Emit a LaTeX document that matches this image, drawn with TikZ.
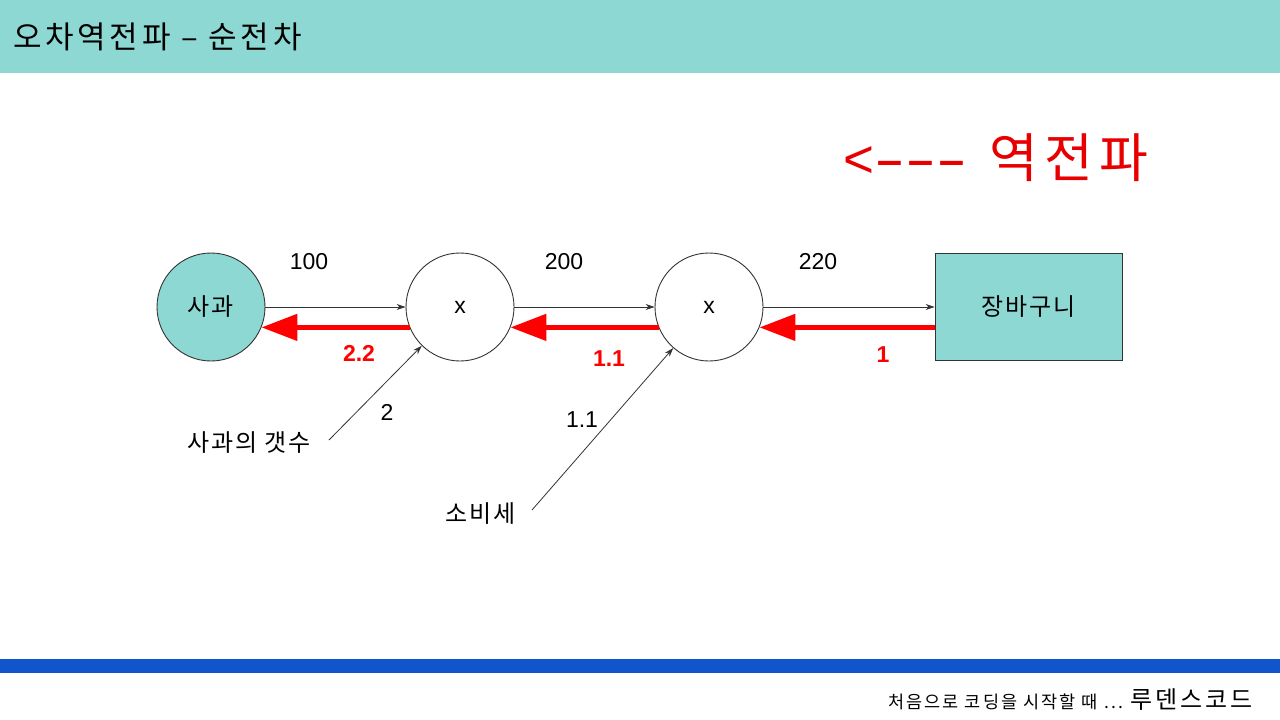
\documentclass[tikz,border=0pt]{standalone}
\usepackage{graphicx}
\usepackage{fontspec}
\setmainfont{Liberation Sans}
\newfontfamily\kr{Noto Sans CJK KR}
\newfontfamily\krwide[LetterSpace=8]{Noto Sans CJK KR}
\newfontfamily\krwider[LetterSpace=12]{Noto Sans CJK KR}
\usetikzlibrary{arrows.meta}
\definecolor{tealfill}{RGB}{142,216,212}
\definecolor{barblue}{RGB}{17,85,204}
\definecolor{edgegray}{RGB}{51,51,51}
\definecolor{hot}{RGB}{255,0,0}
\definecolor{bigred}{RGB}{232,0,0}
\newcommand\wdash{\scalebox{1.75}[1]{-}}
\begin{document}
\begin{tikzpicture}[x=1pt,y=-1pt,
  circ/.style={circle,draw=edgegray,line width=0.9pt,minimum size=108pt,inner sep=0pt,font=\fontsize{23}{27}\selectfont},
  boxnode/.style={rectangle,draw=edgegray,line width=0.9pt,fill=tealfill,minimum width=187pt,minimum height=107pt,inner sep=0pt},
  krlabel/.style={font=\krwide\fontsize{24}{28}\selectfont,inner sep=0pt},
  num/.style={font=\fontsize{23}{27}\selectfont,inner sep=0pt},
  rednum/.style={font=\bfseries\fontsize{23}{27}\selectfont,text=hot,inner sep=0pt},
  fwd/.style={draw=edgegray,line width=0.8pt,-{Stealth[length=9pt,width=6pt]}},
  back/.style={draw=hot,line width=5pt,-{Triangle[length=36pt,width=26pt]}},
  ]
\useasboundingbox (0,0) rectangle (1280,720);
\fill[white] (0,0) rectangle (1280,720);
\fill[tealfill] (0,0) rectangle (1280,73);
\fill[barblue] (0,659) rectangle (1280,673);

\node[anchor=west,font=\krwider\fontsize{31}{35}\selectfont,inner sep=0pt] (title) at (13,37) {오차역전파 – 순전차};

\node[text=bigred,inner sep=0pt,font=\fontsize{53}{60}\selectfont] (bp) at (996,158) {<\wdash\wdash\wdash\hspace{22pt}{\krwider 역전파}};

\node[circ,fill=tealfill,font=\krwide\fontsize{24}{28}\selectfont] (a) at (211,307) {사과};
\node[circ] (c1) at (460,307) {x};
\node[circ] (c2) at (709,307) {x};
\node[boxnode,font=\krwide\fontsize{24}{28}\selectfont] (b) at (1028.5,307) {장바구니};

\draw[fwd] (a.east) -- (c1.west);
\draw[fwd] (c1.east) -- (c2.west);
\draw[fwd] (c2.east) -- (b.west);

\draw[back] (c1.202) -- (a.338);
\draw[back] (c2.202) -- (c1.338);
\draw[back] (c2.338 -| b.west) -- (c2.338);

\node[num] (l100) at (309,262) {100};
\node[num] (l200) at (564,262) {200};
\node[num] (l220) at (818,262) {220};

\node[rednum] (g1) at (359,353) {2.2};
\node[rednum] (g2) at (609,359) {1.1};
\node[rednum] (g3) at (883,355) {1};

\coordinate (q1) at (329,440);
\coordinate (q2) at (532,510);
\draw[fwd] (q1) -- (c1);
\draw[fwd] (q2) -- (c2);

\node[krlabel] (cnt) at (249,443) {사과의 갯수};
\node[num] (n2) at (387,412) {2};
\node[krlabel] (tax) at (481,514) {소비세};
\node[num] (n11) at (582,420) {1.1};

\node[anchor=base east,inner sep=0pt] (foot) at (1253,708) {{\krwider\fontsize{17.5}{20}\selectfont 처음으로 코딩을 시작할 때 ...}\hspace{8pt}{\krwider\fontsize{24}{28}\selectfont 루덴스코드}};
\end{tikzpicture}
\end{document}
